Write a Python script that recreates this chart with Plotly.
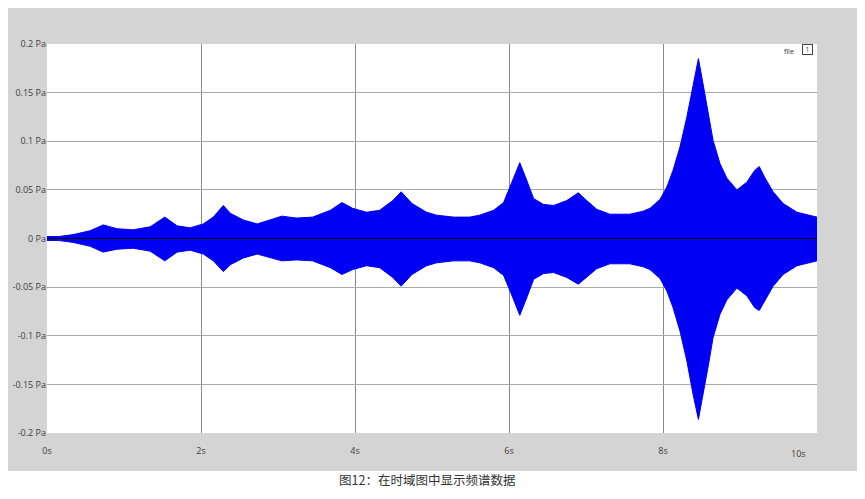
import plotly.graph_objects as go

# time (s) of envelope samples
time_s = [0.00, 0.15, 0.34, 0.56, 0.73, 0.91, 1.12, 1.34, 1.53, 1.69, 1.86, 2.03, 2.16, 2.29,
          2.38, 2.55, 2.73, 2.90, 3.05, 3.24, 3.45, 3.68, 3.83, 3.97, 4.15, 4.32, 4.49, 4.60,
          4.74, 4.93, 5.06, 5.28, 5.49, 5.62, 5.80, 5.93, 6.03, 6.14, 6.23, 6.32, 6.45, 6.58,
          6.75, 6.90, 7.01, 7.14, 7.31, 7.57, 7.74, 7.83, 7.96, 8.05, 8.13, 8.22, 8.31, 8.39,
          8.46, 8.52, 8.59, 8.65, 8.74, 8.83, 8.96, 9.09, 9.19, 9.25, 9.32, 9.43, 9.56, 9.74, 10.00]
# upper envelope (Pa)
upper_pa = [0.002, 0.002, 0.004, 0.008, 0.014, 0.010, 0.009, 0.012, 0.022, 0.013, 0.011, 0.015, 0.022, 0.034,
            0.026, 0.019, 0.015, 0.019, 0.023, 0.021, 0.022, 0.029, 0.037, 0.031, 0.027, 0.029, 0.039, 0.048,
            0.036, 0.027, 0.024, 0.022, 0.022, 0.024, 0.029, 0.037, 0.056, 0.078, 0.060, 0.041, 0.035, 0.034,
            0.039, 0.047, 0.039, 0.030, 0.025, 0.025, 0.028, 0.031, 0.040, 0.053, 0.070, 0.094, 0.125, 0.159,
            0.185, 0.159, 0.129, 0.101, 0.077, 0.062, 0.050, 0.058, 0.070, 0.074, 0.063, 0.048, 0.036, 0.027, 0.022]
# lower envelope (Pa)
lower_pa = [-0.002, -0.002, -0.004, -0.008, -0.014, -0.011, -0.010, -0.013, -0.023, -0.014, -0.012, -0.016, -0.023, -0.034,
            -0.027, -0.020, -0.016, -0.020, -0.023, -0.022, -0.023, -0.030, -0.037, -0.032, -0.028, -0.030, -0.040, -0.049,
            -0.037, -0.028, -0.025, -0.023, -0.023, -0.025, -0.030, -0.038, -0.057, -0.079, -0.061, -0.042, -0.036, -0.035,
            -0.040, -0.047, -0.040, -0.031, -0.026, -0.026, -0.029, -0.032, -0.041, -0.054, -0.071, -0.095, -0.126, -0.160,
            -0.186, -0.160, -0.130, -0.102, -0.078, -0.063, -0.051, -0.059, -0.071, -0.074, -0.064, -0.049, -0.037, -0.028, -0.023]

y_ticks = [0.2, 0.15, 0.1, 0.05, 0, -0.05, -0.1, -0.15, -0.2]
y_tick_text = ["0.2 Pa", "0.15 Pa", "0.1 Pa", "0.05 Pa", "0 Pa", "-0.05 Pa", "-0.1 Pa", "-0.15 Pa", "-0.2 Pa"]
x_ticks = [0, 2, 4, 6, 8]
x_tick_text = ["0s", "2s", "4s", "6s", "8s"]
caption = "图12：在时域图中显示频谱数据"

BLUE = "#0000f5"
FONT = "Open Sans"

fig = go.Figure()
fig.add_trace(go.Scatter(
    x=time_s + time_s[::-1],
    y=upper_pa + lower_pa[::-1],
    fill="toself", fillcolor=BLUE, mode="lines",
    line=dict(color=BLUE, width=1), hoverinfo="skip", showlegend=False,
))
fig.add_trace(go.Scatter(
    x=[time_s[0], time_s[-1]], y=[0, 0], mode="lines",
    line=dict(color="#000000", width=1), hoverinfo="skip", showlegend=False,
))

# page has an 8px body margin; figure coordinates are page coordinates minus 8
OFF = 8
W, H = 849, 483
L, T = 47 - OFF, 44 - OFF
R = W - (817 - OFF)
B = H - (433 - OFF)
pw, ph = W - L - R, H - T - B

def px_x(p):
    return (p - OFF - L) / pw

def px_y(p):
    return (H - B - (p - OFF)) / ph

fig.add_shape(type="rect", xref="paper", yref="paper", layer="below",
              x0=px_x(7), x1=px_x(857), y0=px_y(471), y1=px_y(7),
              fillcolor="#d4d4d4", line=dict(width=0))
fig.add_shape(type="rect", xref="paper", yref="paper", layer="below",
              x0=0, x1=1, y0=0, y1=1, fillcolor="#ffffff", line=dict(width=0))

fig.update_layout(
    width=W, height=H,
    margin=dict(l=L, r=R, t=T, b=B, autoexpand=False),
    paper_bgcolor="#ffffff", plot_bgcolor="#ffffff",
    font=dict(family=FONT, size=9, color="#404040"),
    showlegend=False,
    xaxis=dict(range=[0, 10], tickvals=x_ticks, ticktext=x_tick_text,
               showgrid=True, gridcolor="#8a8a8a", gridwidth=1,
               zeroline=False, showline=False, automargin=False,
               ticks="outside", ticklen=9, tickcolor="rgba(0,0,0,0)",
               tickfont=dict(family=FONT, size=9, color="#404040")),
    yaxis=dict(range=[-0.2, 0.2], tickvals=y_ticks, ticktext=y_tick_text,
               showgrid=True, gridcolor="#aaaaaa", gridwidth=1,
               zeroline=False, showline=False, automargin=False,
               ticks="",
               tickfont=dict(family=FONT, size=9, color="#404040")),
)

fig.add_annotation(x=10, y=0, xref="x", yref="paper", text="10s", showarrow=False,
                   xanchor="right", yanchor="top", xshift=-9, yshift=-12,
                   font=dict(family=FONT, size=9, color="#404040"))
fig.add_annotation(x=1, y=1, xref="paper", yref="paper", text="file", showarrow=False,
                   xanchor="right", yanchor="top", xshift=-21, yshift=-1,
                   font=dict(family=FONT, size=7, color="#333333"))
fig.add_annotation(x=1, y=1, xref="paper", yref="paper", text="1", showarrow=False,
                   xanchor="right", yanchor="top", xshift=-4, yshift=0,
                   bordercolor="#444444", borderwidth=1, borderpad=0,
                   width=9, height=9, align="center",
                   font=dict(family=FONT, size=7, color="#8b1a1a"))
fig.add_annotation(x=px_x(427), y=px_y(490), xref="paper", yref="paper", text=caption,
                   showarrow=False, xanchor="center", yanchor="bottom", borderpad=0,
                   font=dict(family="Noto Sans CJK SC", size=12.5, color="#333333"))

fig.write_html("out.html")
